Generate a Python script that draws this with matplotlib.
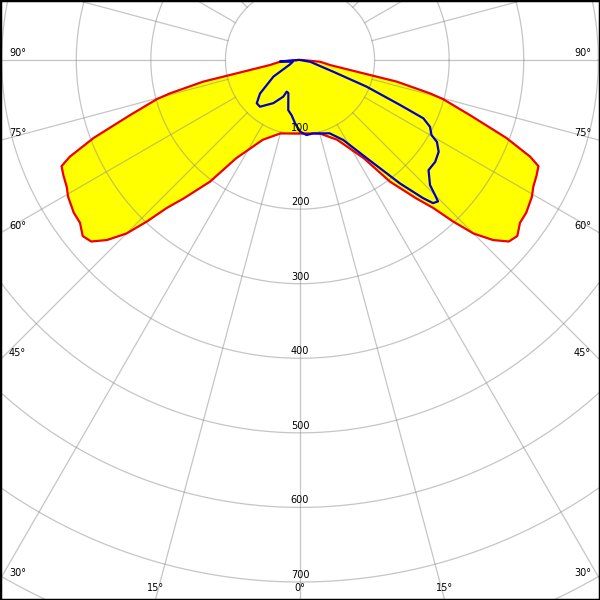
import numpy as np
import matplotlib
matplotlib.use("Agg")
import matplotlib.pyplot as plt

# C0/C180 plane (symmetric), gamma in degrees, intensity in cd/klm
red_gamma = [0, 15, 25, 33, 36.5, 40, 42, 43.5, 45, 47, 49, 51, 53.5, 56, 59.5,
             61.5, 64, 66, 67.2, 69.3, 72, 74.7, 75.6, 77.4, 78.1, 80.5, 85, 90]
red_int = [98.5, 102, 118, 157, 203, 242, 267, 299, 329, 354, 371, 375, 367, 366, 361,
           356, 353, 350, 335, 296, 240, 199, 180, 133, 87, 41, 27, 3]

# C90/C270 plane, gamma from -90 (left) to 90 (right)
blue_gamma = [-90, -86, -76, -66, -58, -50, -45, -40.6, -31.7, -24.5, -22.8, -19.4,
              -13.2, -8.6, -4.5, 0, 5, 10, 15, 22, 28.4, 34.2, 39, 41.7, 42.9, 44.3,
              45, 46.1, 49.4, 53, 56.5, 59.1, 60.3, 62.8, 64.7, 65.8, 68.2, 70.6, 80, 90]
blue_int = [2, 27, 10, 15, 42, 70, 82, 82.5, 68, 54, 46, 47,
            69, 75, 85, 96, 101, 100, 102, 106, 122, 159, 213, 248, 262, 265,
            256, 242, 227, 227, 223, 214, 203, 196, 183, 147, 96, 47, 14, 0]

rings = [100, 200, 300, 400, 500, 600, 700, 800]
ring_labels = ["100", "200", "300", "400", "500", "600", "700"]
side_angles = [90, 75, 60, 45, 30]
bottom_angles = [15, 0, 15]
bottom_signed = [-15, 0, 15]

k = 0.7457  # pixels per cd/klm
cx, cy = 300, 60  # pole position in pixels


def px(x, y):
    return (x - cx) / k, -(y - cy) / k


def polar(g, r):
    g = np.radians(np.asarray(g, dtype=float))
    r = np.asarray(r, dtype=float)
    return r * np.sin(g), -r * np.cos(g)


fig = plt.figure(figsize=(6, 6), dpi=100)
ax = fig.add_axes([0, 0, 1, 1])
x0, y0 = px(0, 0)
x1, y1 = px(600, 600)
ax.set_xlim(x0, x1)
ax.set_ylim(y1, y0)
ax.set_xticks([])
ax.set_yticks([])
for s in ax.spines.values():
    s.set_color("black")
    s.set_linewidth(2.5)

# red curve (mirrored)
g_full = [-g for g in red_gamma[::-1]] + red_gamma[1:]
i_full = red_int[::-1] + red_int[1:]
rx, ry = polar(g_full, i_full)
ax.fill(rx, ry, color="#ffff00", zorder=1, lw=0)

# grid
t = np.linspace(0, 2 * np.pi, 720)
for r in rings:
    ax.plot(r * np.cos(t), r * np.sin(t), color="#8c8c8c", alpha=0.5, lw=0.9, zorder=2)
for a in range(0, 360, 15):
    lx, ly = polar([a, a], [100, 1200])
    ax.plot(lx, ly, color="#8c8c8c", alpha=0.5, lw=0.9, zorder=2)

ax.plot(rx, ry, color="#ee0000", lw=1.6, zorder=3)
bx, by = polar(blue_gamma, blue_int)
ax.plot(bx, by, color="#0000c8", lw=1.6, zorder=4)

# ring labels
for r, lab in zip(rings, ring_labels):
    ax.text(0, -r + 7 / k, lab, ha="center", va="center", fontsize=7, zorder=5)

# angle labels on the sides
for a in side_angles:
    ypx = cy + cx / np.tan(np.radians(a)) - 7
    lx, ly = px(9, ypx)
    ax.text(lx, ly, "%d°" % a, ha="left", va="center", fontsize=7, zorder=5)
    lx, ly = px(591, ypx)
    ax.text(lx, ly, "%d°" % a, ha="right", va="center", fontsize=7, zorder=5)

# angle labels at the bottom
for a, sa in zip(bottom_angles, bottom_signed):
    xpx = cx + (600 - cy) * np.tan(np.radians(sa))
    lx, ly = px(xpx, 588)
    ax.text(lx, ly, "%d°" % a, ha="center", va="center", fontsize=7, zorder=5)

fig.savefig("out.png", dpi=100)
